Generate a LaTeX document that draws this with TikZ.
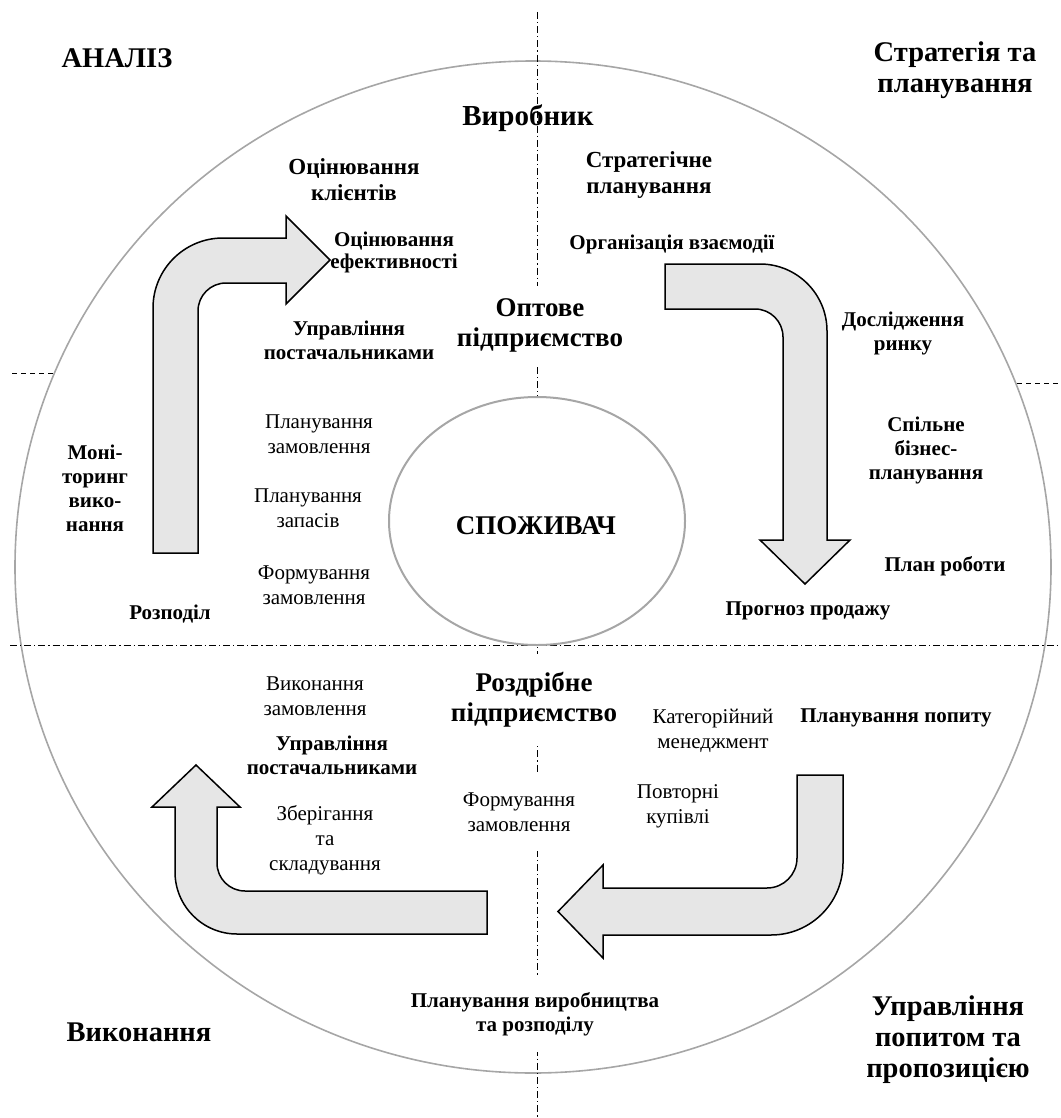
\documentclass[tikz,border=0pt]{standalone}
\usepackage{fontspec}
\setmainfont{Liberation Serif}
\usetikzlibrary{shapes.geometric}
\definecolor{arrowfill}{HTML}{E6E6E6}
\definecolor{ringgray}{HTML}{A6A6A6}
\begin{document}
\begin{tikzpicture}[x=1pt,y=-1pt,
  lbl/.style={align=center, inner sep=0pt},
  bigtxt/.style={lbl, font=\fontsize{28.5}{31}\selectfont\bfseries},
  midtxt/.style={lbl, font=\fontsize{27}{30}\selectfont\bfseries},
  sbtxt/.style={lbl, font=\fontsize{21}{24}\selectfont\bfseries},
  sbbtxt/.style={lbl, font=\fontsize{23}{26}\selectfont\bfseries},
  srtxt/.style={lbl, font=\fontsize{21}{25}\selectfont},
  cover/.style={fill=white},
  flowarrow/.style={draw=black, line width=1.5pt, fill=arrowfill, line join=miter},
  ddline/.style={draw=black, line width=0.8pt, dash pattern=on 7pt off 3pt on 1.2pt off 3pt},
  shortdash/.style={draw=black, line width=0.8pt, dash pattern=on 5pt off 4pt}
]
\useasboundingbox (0,0) rectangle (1060,1118);

% outer ring
\node[draw=ringgray, line width=1.6pt, ellipse, minimum width=1036pt, minimum height=1012pt, inner sep=0pt] (ring) at (533,567) {};

% dash-dot axes
\coordinate (vtop) at (537,12);
\coordinate (vbot) at (537,1118);
\coordinate (hl) at (10,645);
\coordinate (hr) at (1060,645);
\draw[ddline] (vtop) -- (vbot);
\draw[ddline] (hl) -- (hr);
\coordinate (dl1) at (12,373);
\coordinate (dl2) at (55,373);
\coordinate (dr1) at (1017,383);
\coordinate (dr2) at (1060,383);
\draw[shortdash] (dl1) -- (dl2);
\draw[shortdash] (dr1) -- (dr2);

% consumer ellipse
\node[draw=ringgray, line width=2pt, fill=white, ellipse, minimum width=296pt, minimum height=248pt, inner sep=0pt] (cons) at (537,521) {};
\node[midtxt] (spo) at (536,526) {СПОЖИВАЧ};

% arrows
\path[flowarrow] (153,553) -- (153,308) .. controls (153,269.3) and (184.3,238) .. (223,238) -- (286,238) -- (286,216) -- (330,260) -- (286,304) -- (286,283) -- (226,283) .. controls (210.5,283) and (198,295.5) .. (198,311) -- (198,553) -- cycle;
\path[flowarrow] (665,264) -- (760,264) .. controls (797,264) and (827,294) .. (827,331) -- (827,540) -- (850,540) -- (805,584) -- (760,540) -- (783,540) -- (783,337) .. controls (783,321.5) and (770.5,309) .. (755,309) -- (665,309) -- cycle;
\path[flowarrow] (797,775) -- (843,775) -- (843,863) .. controls (843,902.8) and (810.8,935) .. (771,935) -- (603,935) -- (603,958) -- (558,911.5) -- (603,865) -- (603,888) -- (767,888) .. controls (783.6,888) and (797,874.6) .. (797,858) -- cycle;
\path[flowarrow] (487,891) -- (487,934) -- (237,934) .. controls (202.8,934) and (175,906.2) .. (175,872) -- (175,807) -- (152,807) -- (196,765) -- (240,807) -- (217,807) -- (217,863) .. controls (217,878.5) and (229.5,891) .. (245,891) -- cycle;

% corner titles
\node[bigtxt] (an) at (117,58) {АНАЛІЗ};
\node[bigtxt] (st) at (955,70) {Стратегія та\\планування};
\node[bigtxt] (vyk) at (139,1032) {Виконання};
\node[bigtxt] (upp) at (948,1040) {Управління\\попитом та\\пропозицією};

% actors
\node[lbl, font=\fontsize{29}{31}\selectfont\bfseries] (vy) at (528,118) {Виробник};
\node[midtxt, cover, inner xsep=4pt, inner ysep=12pt] (opt) at (540,325) {Оптове\\підприємство};
\node[midtxt, cover, inner xsep=4pt, inner ysep=18pt] (rzd) at (534,700) {Роздрібне\\підприємство};

% top-left quadrant
\node[sbbtxt] (okl) at (354,180) {Оцінювання\\клієнтів};
\node[lbl, font=\fontsize{21}{22}\selectfont\bfseries] (oef) at (394,252) {Оцінювання\\ефективності};
\node[sbtxt] (up1) at (349,340) {Управління\\постачальниками};
\node[sbtxt] (mon) at (95,488) {Моні-\\торинг\\вико-\\нання};
\node[srtxt] (pz1) at (319,434) {Планування\\замовлення};
\node[srtxt] (pzp) at (308,508) {Планування\\запасів};
\node[srtxt] (fz1) at (314,585) {Формування\\замовлення};
\node[sbtxt] (roz) at (170,614) {Розподіл};

% top-right quadrant
\node[sbbtxt] (stp) at (649,175) {Стратегічне\\планування};
\node[sbtxt] (org) at (672,244) {Організація взаємодії};
\node[sbtxt] (dos) at (903,333) {Дослідження\\ринку};
\node[sbtxt] (spb) at (926,450) {Спільне\\бізнес-\\планування};
\node[sbtxt] (plr) at (945,566) {План роботи};
\node[sbtxt] (prg) at (808,611) {Прогноз продажу};

% bottom-left quadrant
\node[srtxt] (vz) at (315,696) {Виконання\\замовлення};
\node[sbtxt] (up2) at (332,755) {Управління\\постачальниками};
\node[srtxt] (zbe) at (325,840) {Зберігання\\та\\складування};

% bottom-right quadrant
\node[srtxt, cover, inner xsep=4pt, inner ysep=20pt] (fz2) at (519,812) {Формування\\замовлення};
\node[srtxt] (kat) at (713,731) {Категорійний\\менеджмент};
\node[sbtxt] (ppo) at (896,718) {Планування попиту};
\node[srtxt] (pov) at (678,806) {Повторні\\купівлі};
\node[sbtxt, cover, inner xsep=6pt, inner ysep=16pt] (pvr) at (535,1014) {Планування виробництва\\та розподілу};
\end{tikzpicture}
\end{document}
